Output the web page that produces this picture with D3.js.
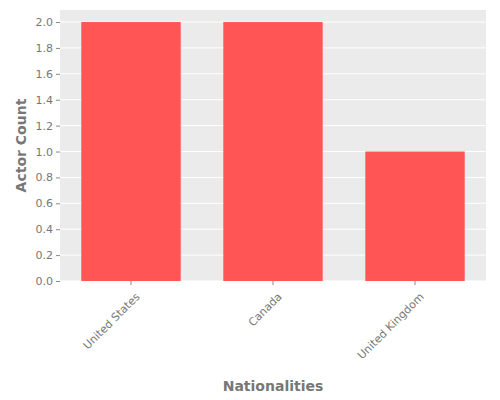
<!DOCTYPE html>
<html><head><meta charset="utf-8">
<script src="https://cdn.jsdelivr.net/npm/d3@7"></script>
<style>body{margin:0;background:#fff}text{font-family:"DejaVu Sans",sans-serif}</style>
</head><body><svg id="c" width="500" height="400"></svg>
<script>
const categories = ["United States","Canada","United Kingdom"];
const counts = [2,2,1];
const yTicks = [0,0.2,0.4,0.6,0.8,1.0,1.2,1.4,1.6,1.8,2.0];

const svg = d3.select("#c");
const L=60,R=486,T=10,B=281;
const x = d3.scaleBand().domain(categories).range([L,R]).paddingInner(0.3).paddingOuter(0.15);
const y = d3.scaleLinear().domain([0,2.093]).range([B,T]);
svg.append("rect").attr("x",L).attr("y",T).attr("width",R-L).attr("height",B-T).attr("fill","#ebebeb");
svg.append("g").selectAll("line").data(yTicks).join("line")
  .attr("x1",L).attr("x2",R).attr("y1",d=>y(d)).attr("y2",d=>y(d)).attr("stroke","#fff").attr("stroke-width",1);
svg.append("g").selectAll("rect").data(categories).join("rect")
  .attr("x",d=>x(d)).attr("width",x.bandwidth()).attr("y",(d,i)=>y(counts[i])).attr("height",(d,i)=>B-y(counts[i])).attr("fill","#ff5555");
const ya = svg.append("g").attr("transform",`translate(${L},0)`).call(d3.axisLeft(y).tickValues(yTicks).tickFormat(d3.format(".1f")).tickSize(4));
ya.select(".domain").remove();
ya.selectAll("line").attr("stroke","#888");
ya.selectAll("text").attr("fill","#777").attr("font-size",11);
const xa = svg.append("g").attr("transform",`translate(0,${B})`).call(d3.axisBottom(x).tickSize(4));
xa.select(".domain").remove();
xa.selectAll("line").attr("stroke","#888");
xa.selectAll("text").attr("fill","#777").attr("font-size",11)
  .attr("text-anchor","end").attr("dx","0.2em").attr("dy","0.9em").attr("transform","translate(-4,6) rotate(-45)");
svg.append("text").attr("x",(L+R)/2).attr("y",391).attr("text-anchor","middle").attr("fill","#777").attr("font-size",14).attr("font-weight","bold").text("Nationalities");
svg.append("text").attr("transform",`translate(26,${(T+B)/2}) rotate(-90)`).attr("text-anchor","middle").attr("fill","#777").attr("font-size",14).attr("font-weight","bold").text("Actor Count");
</script></body></html>
